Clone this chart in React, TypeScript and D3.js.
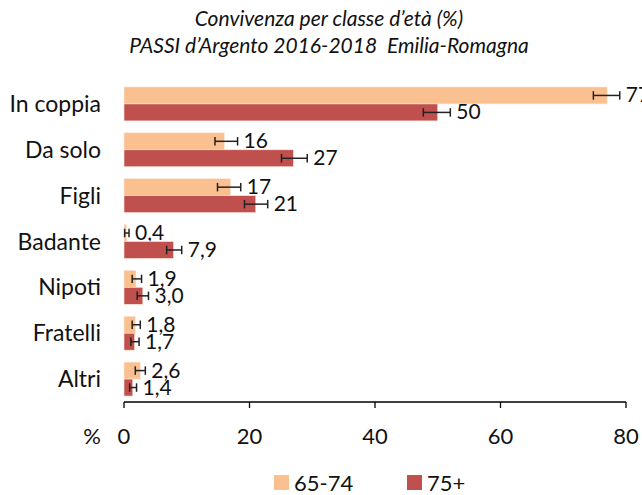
import * as d3 from 'd3'

const categories = ['In coppia', 'Da solo', 'Figli', 'Badante', 'Nipoti', 'Fratelli', 'Altri']
const series = ['65-74', '75+']
const values6574 = [77, 16, 17, 0.4, 1.9, 1.8, 2.6]
const values75 = [50, 27, 21, 7.9, 3.0, 1.7, 1.4]
const low6574 = [74.8, 14.5, 14.9, 0.1, 1.3, 1.3, 1.8]
const high6574 = [79.0, 18.1, 18.6, 0.8, 2.8, 2.6, 3.4]
const low75 = [47.7, 25.1, 19.2, 6.8, 2.1, 1.1, 0.9]
const high75 = [52.0, 29.2, 22.9, 9.2, 3.9, 2.4, 2.0]
const ticks = [0, 20, 40, 60, 80]

const COLORS = { a: '#FAC090', b: '#C0504D' }
const FONT = 'Lato, "Open Sans", sans-serif'

const fmt = (v: number) => (v >= 10 ? d3.format('d')(v) : v.toFixed(1).replace('.', ','))

export default function App() {
  const width = 642
  const height = 495
  const margin = { left: 124, right: 16, top: 81, bottom: 93 }

  const x = d3.scaleLinear().domain([0, 80]).range([margin.left, width - margin.right])
  const y = d3.scaleBand().domain(categories)
    .range([margin.top, height - margin.bottom])
    .paddingInner(0.26).paddingOuter(0.13)
  const sub = d3.scaleBand().domain(series).range([0, y.bandwidth()])

  const rows = categories.map((c, i) => [
    { cat: c, s: series[0], v: values6574[i], lo: low6574[i], hi: high6574[i], color: COLORS.a },
    { cat: c, s: series[1], v: values75[i], lo: low75[i], hi: high75[i], color: COLORS.b },
  ]).flat()

  const axisY = height - margin.bottom
  const cap = sub.bandwidth() * 0.5

  return (
    <svg width={width} height={height} style={{ position: 'absolute', left: 0, top: 0 }}
      fontFamily={FONT}>
      {/* title */}
      <text x={329} y={26} textAnchor="middle" fontSize={21} fontStyle="italic" fill="#111">
        Convivenza per classe d’età (%)
      </text>
      <text x={329} y={53} textAnchor="middle" fontSize={21} fontStyle="italic" fill="#111"
        style={{ whiteSpace: 'pre' }}>
        {'PASSI d’Argento 2016-2018  Emilia-Romagna'}
      </text>

      {/* bars */}
      {rows.map(d => {
        const by = y(d.cat)! + sub(d.s)!
        const bh = sub.bandwidth()
        const cy = by + bh / 2
        return (
          <g key={d.cat + d.s}>
            <rect x={x(0)} y={by} width={x(d.v) - x(0)} height={bh} fill={d.color}
              stroke="#fde9dc" strokeWidth={0.6} />
            <line x1={x(d.lo)} x2={x(d.hi)} y1={cy} y2={cy} stroke="#222" strokeWidth={1.5} />
            <line x1={x(d.lo)} x2={x(d.lo)} y1={cy - cap / 2} y2={cy + cap / 2} stroke="#222" strokeWidth={1.5} />
            <line x1={x(d.hi)} x2={x(d.hi)} y1={cy - cap / 2} y2={cy + cap / 2} stroke="#222" strokeWidth={1.5} />
            <text x={x(d.hi) + 6} y={cy + 7} fontSize={21} fill="#111">{fmt(d.v)}</text>
          </g>
        )
      })}

      {/* category labels */}
      {categories.map(c => (
        <text key={c} x={101} y={y(c)! + y.bandwidth() / 2 + 8} textAnchor="end"
          fontSize={23} fill="#111">{c}</text>
      ))}

      {/* x axis */}
      <line x1={x(0)} x2={x(80)} y1={axisY} y2={axisY} stroke="#000" strokeWidth={1.6} />
      {ticks.map(t => (
        <g key={t}>
          <line x1={x(t)} x2={x(t)} y1={axisY} y2={axisY + 6} stroke="#000" strokeWidth={1.3} />
          <text x={x(t)} y={444} textAnchor="middle" fontSize={22} fill="#111">{t}</text>
        </g>
      ))}
      <text x={92} y={444} textAnchor="middle" fontSize={22} fill="#111">%</text>

      {/* legend */}
      {series.map((s, i) => {
        const lx = i === 0 ? 274 : 407
        return (
          <g key={s}>
            <rect x={lx} y={475} width={15} height={15} fill={i === 0 ? COLORS.a : COLORS.b} />
            <text x={lx + 20} y={491} fontSize={22} fill="#111">{s}</text>
          </g>
        )
      })}
    </svg>
  )
}
